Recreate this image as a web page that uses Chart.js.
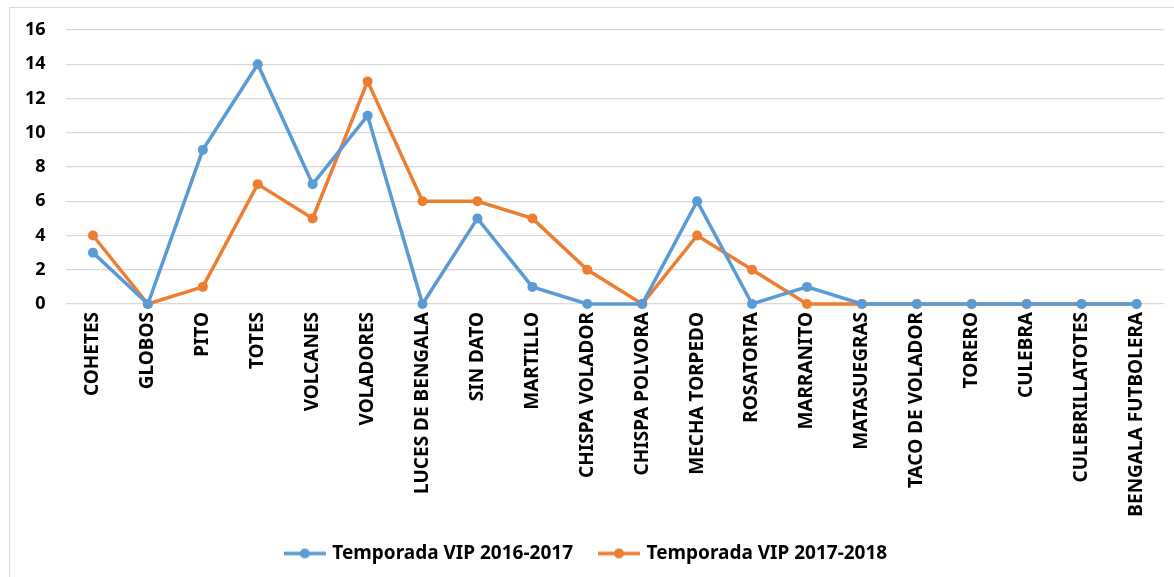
<!DOCTYPE html>
<html>
<head>
<meta charset="utf-8">
<script src="https://cdn.jsdelivr.net/npm/chart.js@4/dist/chart.umd.min.js"></script>
<style>
    html, body { margin: 0; padding: 0; background: #fff; }
    body { width: 1174px; height: 577px; position: relative; overflow: hidden; }
    #box { position: absolute; left: 9px; top: 7px; width: 1170px; height: 575px; border: 1px solid #d9d9d9; box-sizing: border-box; }
    #wrap { position: absolute; left: 10px; top: 8px; width: 1164px; height: 569px; }
</style>
</head>
<body>
<div id="box"></div>
<div id="wrap"><canvas id="chart"></canvas></div>
<script>
const categories = ['COHETES', 'GLOBOS', 'PITO', 'TOTES', 'VOLCANES', 'VOLADORES', 'LUCES DE BENGALA',
    'SIN DATO', 'MARTILLO', 'CHISPA VOLADOR', 'CHISPA POLVORA', 'MECHA TORPEDO', 'ROSATORTA',
    'MARRANITO', 'MATASUEGRAS', 'TACO DE VOLADOR', 'TORERO', 'CULEBRA', 'CULEBRILLATOTES', 'BENGALA FUTBOLERA'];
const season1617 = [3, 0, 9, 14, 7, 11, 0, 5, 1, 0, 0, 6, 0, 1, 0, 0, 0, 0, 0, 0];
const season1718 = [4, 0, 1, 7, 5, 13, 6, 6, 5, 2, 0, 4, 2, 0, 0, 0, 0, 0, 0, 0];
const seriesNames = ['Temporada VIP 2016-2017', 'Temporada VIP 2017-2018'];

const BLUE = '#5b9bd5';
const ORANGE = '#ed7d31';
const FONT = '"Noto Sans", "Open Sans", sans-serif';

// legend marker: short line with a dot in the middle
function legendMarker(color) {
    const c = document.createElement('canvas');
    c.width = 42;
    c.height = 12;
    const g = c.getContext('2d');
    g.strokeStyle = color;
    g.lineWidth = 3.5;
    g.beginPath();
    g.moveTo(0, 6);
    g.lineTo(42, 6);
    g.stroke();
    g.fillStyle = color;
    g.beginPath();
    g.arc(21, 6, 5, 0, Math.PI * 2);
    g.fill();
    return c;
}

function makeSet(label, data, color) {
    return {
        label: label,
        data: data,
        borderColor: color,
        backgroundColor: color,
        borderWidth: 3.5,
        pointRadius: 5,
        pointHoverRadius: 5,
        pointBorderWidth: 0,
        tension: 0,
        clip: false
    };
}

new Chart(document.getElementById('chart'), {
    type: 'line',
    data: {
        labels: categories,
        datasets: [
            makeSet(seriesNames[0], season1617, BLUE),
            makeSet(seriesNames[1], season1718, ORANGE)
        ]
    },
    options: {
        responsive: true,
        maintainAspectRatio: false,
        animation: false,
        layout: { padding: { left: 0, right: 10, top: 22, bottom: 4 } },
        scales: {
            x: {
                offset: true,
                grid: { display: false, drawTicks: false, offset: true },
                border: { display: false },
                ticks: {
                    color: '#000',
                    font: { family: FONT, size: 19, weight: 'bold' },
                    maxRotation: 90,
                    minRotation: 90,
                    autoSkip: false,
                    padding: 8
                },
                afterFit: function (axis) { axis.height = 212; }
            },
            y: {
                min: 0,
                max: 16,
                grid: { color: '#d9d9d9', lineWidth: 1.3, drawTicks: false },
                border: { display: false },
                ticks: {
                    stepSize: 2,
                    color: '#000',
                    font: { family: FONT, size: 18, weight: 'bold' },
                    padding: 20
                },
                afterFit: function (axis) {
                    axis.width = 55.5;
                    axis.paddingTop = 0;
                    axis.paddingBottom = 0;
                }
            }
        },
        plugins: {
            legend: {
                position: 'bottom',
                labels: {
                    color: '#000',
                    font: { family: FONT, size: 19, weight: 'bold' },
                    usePointStyle: true,
                    pointStyleWidth: 36,
                    padding: 28,
                    generateLabels: function (chart) {
                        return chart.data.datasets.map(function (ds, i) {
                            return {
                                text: ds.label,
                                fillStyle: ds.borderColor,
                                strokeStyle: ds.borderColor,
                                lineWidth: 0,
                                pointStyle: legendMarker(ds.borderColor),
                                datasetIndex: i,
                                hidden: false
                            };
                        });
                    }
                }
            },
            tooltip: { enabled: false }
        }
    }
});
</script>
</body>
</html>
